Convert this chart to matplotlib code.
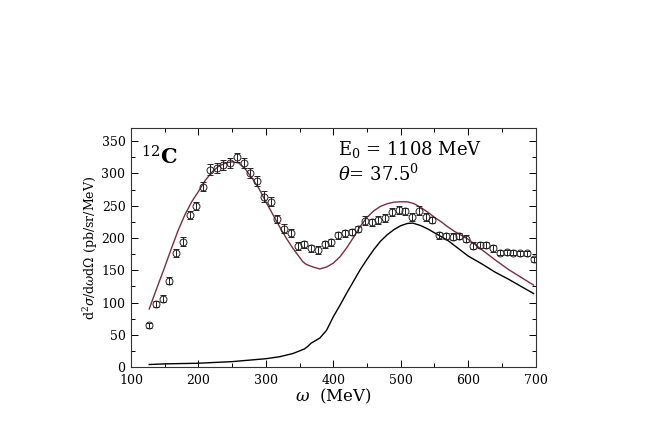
#!/usr/bin/env python3
"""Inclusive 12C(e,e') cross section at E0 = 1108 MeV, theta = 37.5 deg."""

from __future__ import annotations

import matplotlib

matplotlib.use("Agg")
import matplotlib.pyplot as plt
import numpy as np
from matplotlib.ticker import MultipleLocator


# measured points (omega in MeV, cross section in pb/sr/MeV)
omega_data = [
    127, 137, 147, 157, 167, 177, 187, 197, 207, 217,
    227, 237, 247, 257, 267, 277, 287, 297, 307, 317,
    327, 337, 347, 357, 367, 377, 387, 397, 407, 417,
    427, 437, 447, 457, 467, 477, 487, 497, 507, 517,
    527, 537, 547, 557, 567, 577, 587, 597, 607, 617,
    627, 637, 647, 657, 667, 677, 687, 697,
]
xsec_data = [
    65, 98, 106, 134, 177, 194, 235, 250, 279, 306,
    308, 313, 316, 325, 316, 301, 288, 264, 256, 229,
    214, 208, 188, 190, 184, 181, 190, 193, 204, 207,
    209, 214, 227, 224, 228, 231, 240, 243, 241, 233,
    242, 233, 228, 204, 203, 202, 203, 199, 188, 189,
    189, 184, 177, 178, 177, 176, 176, 167,
]
xsec_err = [
    4, 5, 5, 5, 6, 7, 6, 6, 7, 8,
    8, 8, 8, 7, 8, 8, 8, 8, 7, 6,
    7, 6, 6, 6, 5, 6, 5, 5, 5, 5,
    5, 5, 7, 6, 6, 6, 6, 6, 6, 6,
    7, 6, 5, 5, 5, 5, 5, 5, 5, 5,
    5, 5, 4, 4, 4, 4, 4, 4,
]

# full calculation (QE + Delta)
omega_total = [
    127, 135, 140, 150, 160, 170, 180, 190, 200, 210, 220, 230, 240, 250,
    260, 270, 280, 290, 300, 310, 320, 330, 340, 350, 355, 360, 370, 380,
    390, 400, 410, 420, 430, 440, 450, 460, 470, 480, 490, 500, 510, 520,
    530, 540, 550, 560, 570, 580, 590, 600, 620, 640, 660, 680, 697,
]
xsec_total = [
    90, 113, 127, 155, 184, 212, 236, 256, 272, 289, 302, 311, 316, 318,
    316, 306, 292, 276, 256, 237, 218, 200, 184, 170, 163, 159, 155, 152,
    155, 161, 171, 185, 201, 218, 232, 242, 249, 253, 255.5, 256, 256, 253,
    247, 240, 232, 225, 217, 210, 204, 198, 182, 166, 151, 138, 127,
]

# Delta region contribution
omega_delta = [
    127, 150, 200, 250, 300, 320, 340, 357, 362, 367, 380, 390, 400, 410,
    420, 430, 440, 450, 460, 470, 480, 490, 500, 510, 518, 530, 540, 550,
    560, 570, 580, 590, 600, 620, 640, 660, 680, 697,
]
xsec_delta = [
    4, 5, 6, 8.5, 13, 16, 21, 28, 32, 37, 45, 57, 78, 96,
    115, 133, 151, 167, 182, 195, 205, 213, 219, 222.5, 223, 219, 214, 208,
    202, 196, 188, 180, 172, 160, 147, 136, 124, 114,
]

SERIF = "DejaVu Serif"
MAROON = "#7a2e3e"


def plot_cross_section() -> None:
    plt.rcParams["mathtext.fontset"] = "dejavuserif"
    fig = plt.figure(figsize=(6.54, 4.36), dpi=100)
    ax = fig.add_axes([0.2003, 0.158, 0.6187, 0.548])

    ax.plot(omega_total, xsec_total, color=MAROON, linewidth=1.0)
    ax.plot(omega_delta, xsec_delta, color="black", linewidth=1.0)
    ax.errorbar(
        omega_data, xsec_data, yerr=xsec_err,
        fmt="o", ms=5, mfc="none", mec="#222222", mew=0.7,
        ecolor="#222222", elinewidth=0.7, capsize=2.5, capthick=0.7,
    )

    ax.set_xlim(100, 700)
    ax.set_ylim(0, 370)
    ax.xaxis.set_major_locator(MultipleLocator(100))
    ax.xaxis.set_minor_locator(MultipleLocator(50))
    ax.yaxis.set_major_locator(MultipleLocator(50))
    ax.yaxis.set_minor_locator(MultipleLocator(25))
    ax.tick_params(which="both", direction="in", top=True, right=True, width=0.7)
    ax.tick_params(which="major", length=5, labelsize=9)
    ax.tick_params(which="minor", length=3)
    ax.tick_params(axis="x", which="major", pad=5)
    ax.tick_params(axis="y", which="major", pad=4)
    for lab in ax.get_xticklabels() + ax.get_yticklabels():
        lab.set_family(SERIF)
    for spine in ax.spines.values():
        spine.set_linewidth(0.8)
        spine.set_color("#333333")

    ax.set_xlabel(r"$\omega$  (MeV)", family=SERIF, fontsize=12, labelpad=0)
    ax.set_ylabel(r"d$^2\sigma$/d$\omega$d$\Omega$ (pb/sr/MeV)",
                  family=SERIF, fontsize=9, labelpad=1)

    ax.text(0.025, 0.93, r"$^{12}$C", transform=ax.transAxes, family=SERIF,
            fontsize=15, fontweight="bold", va="top", ha="left")
    ax.text(0.512, 0.955, r"E$_0$ = 1108 MeV", transform=ax.transAxes,
            family=SERIF, fontsize=13, va="top", ha="left")
    ax.text(0.512, 0.85, r"$\theta$= 37.5$^0$", transform=ax.transAxes,
            family=SERIF, fontsize=13, va="top", ha="left")

    fig.savefig("out.png", dpi=100)
    plt.close(fig)


def main() -> None:
    plot_cross_section()


if __name__ == "__main__":
    main()
